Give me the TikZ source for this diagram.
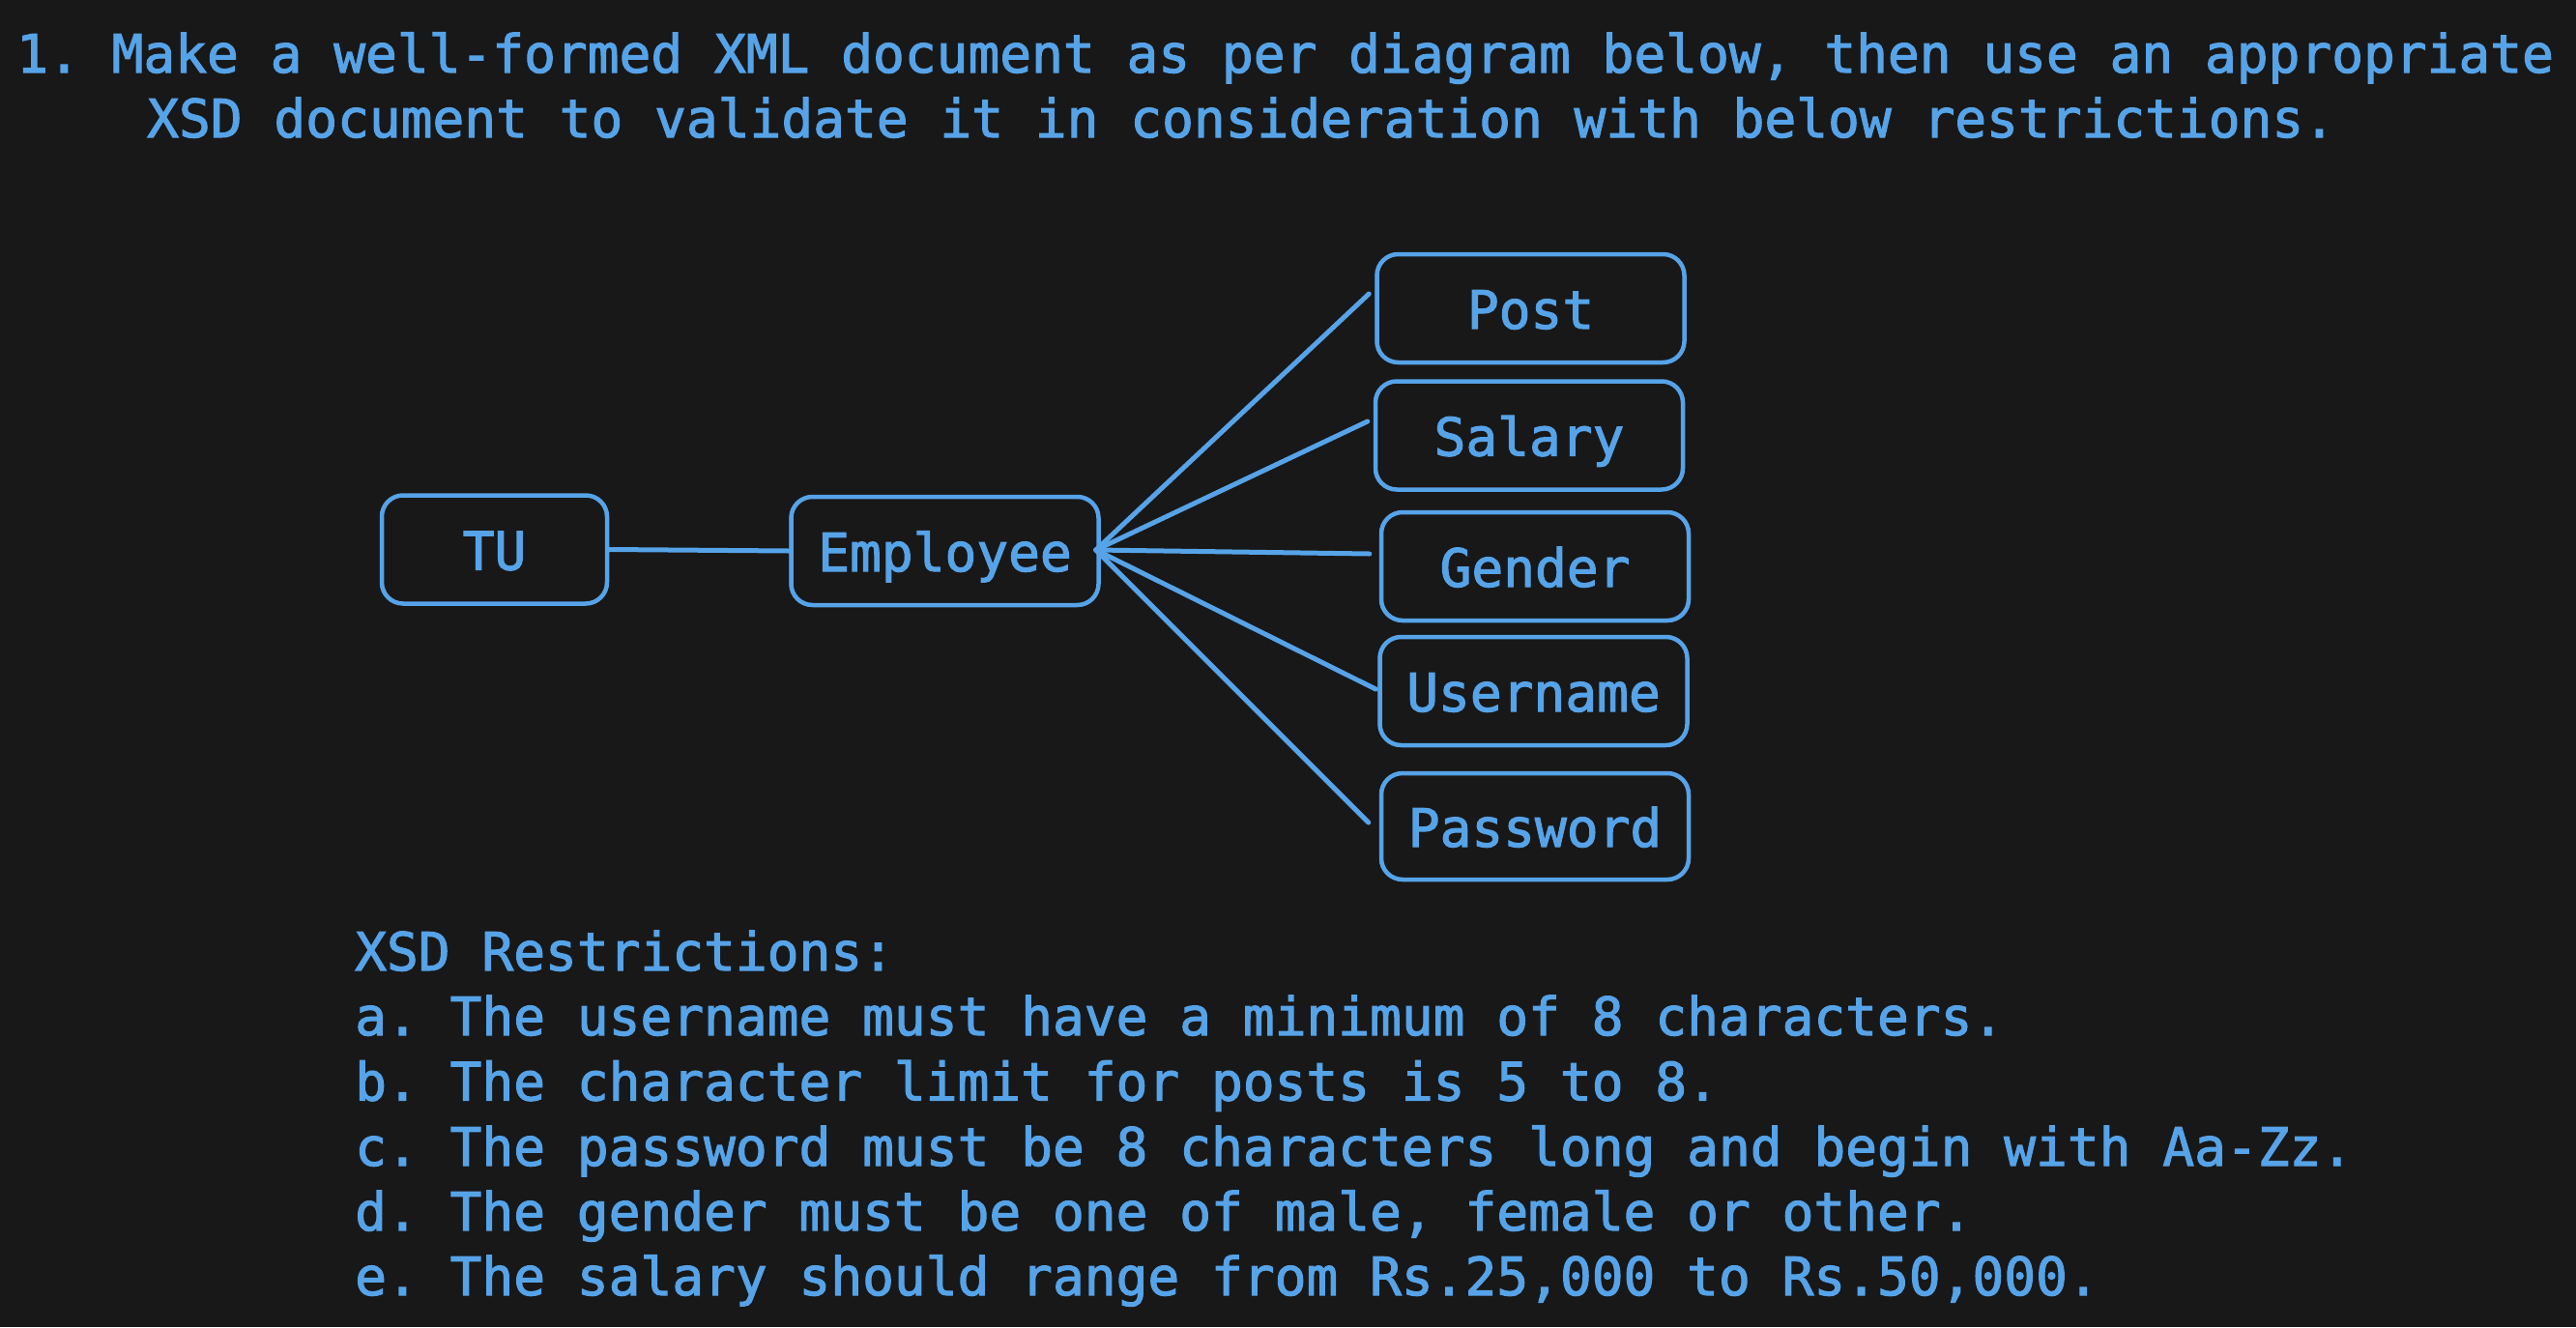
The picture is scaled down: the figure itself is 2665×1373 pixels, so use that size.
\documentclass[tikz,border=0pt]{standalone}
\usepackage{fontspec}
\newfontfamily\mono[BoldFont={DejaVu Sans Mono},BoldFeatures={FakeBold=2.0}]{DejaVu Sans Mono}
\usetikzlibrary{calc}
\definecolor{bg}{HTML}{181818}
\definecolor{ink}{HTML}{56A3E8}
\newcommand\fs{\mono\bfseries\frenchspacing\fontsize{54.5pt}{67pt}\selectfont}
\tikzset{
 txt/.style={anchor=base west, inner sep=0pt, text=ink, font=\fs},
 box/.style={draw=ink, line width=4.5pt, rounded corners=22pt, text=ink, font=\fs,
   text height=42pt, text depth=0pt, inner sep=0pt, minimum height=112pt, minimum width=318pt},
 link/.style={draw=ink, line width=5pt, line cap=round},
 sketch/.style={draw=ink, line width=2.5pt, rounded corners=22pt}
}
\begin{document}
\frenchspacing
\begin{tikzpicture}[x=1pt,y=-1pt]
\fill[bg] (0,0) rectangle (2665,1373);
\useasboundingbox (0,0) rectangle (2665,1373);

\node[txt] (t1) at (17,75) {1. Make a well-formed XML document as per diagram below, then use an appropriate};
\node[txt] (t2) at (152,142) {XSD document to validate it in consideration with below restrictions.};

\node[box, minimum width=233pt] (tu) at (511.5,568.5) {TU};
\node[box] (emp) at (977.5,570) {Employee};
\node[box] (post) at (1583.5,319) {Post};
\node[box] (sal) at (1582,450.5) {Salary};
\node[box] (gen) at (1588,586) {Gender};
\node[box] (usr) at (1586.5,715) {Username};
\node[box, minimum height=110pt] (pwd) at (1588,855) {Password};

\foreach \n in {tu,emp,post,sal,gen,usr,pwd}
  \draw[sketch] ($(\n.south west)+(1.5,-2)$) rectangle ($(\n.north east)+(-2,2.5)$);

\coordinate (hub) at ($(emp.east)+(-5,-1)$);
\coordinate (ep) at ($(post.west)+(-6,-15)$);
\coordinate (es) at ($(sal.west)+(-6,-14.5)$);
\coordinate (eg) at ($(gen.west)+(-10,-13)$);
\coordinate (eu) at ($(usr.west)+(-2,-2)$);
\coordinate (ew) at ($(pwd.west)+(-11,-4)$);

\draw[link] (tu.east) -- (emp.west);
\draw[link] (hub) -- (ep);
\draw[link] (hub) -- (es);
\draw[link] (hub) -- (eg);
\draw[link] (hub) -- (eu);
\draw[link] (hub) -- (ew);

\node[txt] (r0) at (367,1004) {XSD Restrictions:};
\node[txt] (r1) at (367,1071) {a. The username must have a minimum of 8 characters.};
\node[txt] (r2) at (367,1138.5) {b. The character limit for posts is 5 to 8.};
\node[txt] (r3) at (367,1206) {c. The password must be 8 characters long and begin with Aa-Zz.};
\node[txt] (r4) at (367,1273) {d. The gender must be one of male, female or other.};
\node[txt] (r5) at (367,1340) {e. The salary should range from Rs.25,000 to Rs.50,000.};
\end{tikzpicture}
\end{document}
